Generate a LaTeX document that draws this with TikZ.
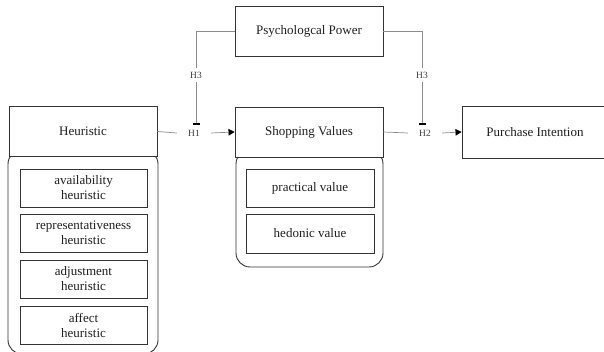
\documentclass[tikz,border=0pt]{standalone}
\usepackage{fontspec}
\setmainfont{Liberation Serif}
\usetikzlibrary{arrows.meta}
\begin{document}
\begin{tikzpicture}[x=1pt,y=-1pt,
  box/.style={draw=black!80, line width=0.9pt, fill=white, minimum width=148pt, minimum height=50pt,
    font=\fontsize{13}{15}\selectfont, text=black!88, inner sep=0pt},
  sub/.style={draw=black!80, line width=0.9pt, minimum width=127pt, minimum height=38pt, align=center,
    font=\fontsize{13}{15}\selectfont, text=black!88, inner sep=0pt},
  grp/.style={draw=black!80, line width=0.9pt, rounded corners=14pt},
  conn/.style={draw=black!45, line width=0.7pt},
  hl/.style={font=\fontsize{9.5}{10}\selectfont, text=black!75, inner sep=1pt, minimum width=34pt},
  hv/.style={font=\fontsize{9.5}{10}\selectfont, text=black!75, inner sep=1pt, fill=white, minimum height=14pt},
  arr/.style={-{Triangle[length=6pt,width=6.5pt,color=black]}},
  tee/.style={-{Bar[width=7pt,line width=2.2pt,color=black]}}
]
\useasboundingbox (0,0) rectangle (604,352);

% group containers
\draw[grp] (8,150) rectangle (158,354);
\draw[grp] (236,150) rectangle (383,267);

% main boxes
\node[box] (heur) at (83,131.5) {Heuristic};
\node[box] (psy) at (309,31) {Psychologcal Power};
\node[box] (sv) at (309,132) {Shopping Values};
\node[box, minimum width=146pt, minimum height=52pt] (pi) at (535,132) {Purchase Intention};

% sub boxes
\node[sub] (avail) at (83.5,188) {availability\\heuristic};
\node[sub] (repr) at (83.5,233) {representativeness\\heuristic};
\node[sub] (adj) at (83.5,279) {adjustment\\heuristic};
\node[sub] (aff) at (83.5,325) {affect\\heuristic};
\node[sub, minimum width=128pt] (prac) at (310,188) {practical value};
\node[sub, minimum width=128pt, minimum height=39pt] (hed) at (310,233.5) {hedonic value};

% hypothesis labels
\node[hl] (h1) at (194,133) {H1};
\node[hl] (h2) at (425,133) {H2};
\coordinate (t1) at (196,125);
\coordinate (t2) at (422,125);

% connectors
\draw[conn] (heur.east) -- (h1.west);
\draw[conn, arr] (h1.east) -- (sv.west);
\draw[conn] (sv.east) -- (h2.west);
\draw[conn, arr] (h2.east) -- (pi.west);
\draw[conn, tee] (psy.west) -| node[hv, pos=0.735] {H3} (t1);
\draw[conn, tee] (psy.east) -| node[hv, pos=0.735] {H3} (t2);
\end{tikzpicture}
\end{document}
